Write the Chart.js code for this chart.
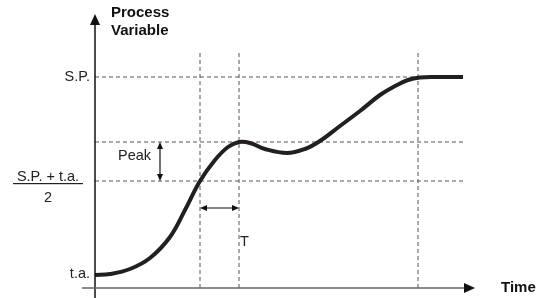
<!DOCTYPE html>
<html>
<head>
<meta charset="utf-8">
<script src="https://cdn.jsdelivr.net/npm/chart.js@4"></script>
<style>
  body { margin: 0; background: #fff; }
  canvas { display: block; }
</style>
</head>
<body>
<canvas id="myChart" width="547" height="298"></canvas>
<script>
// response curve (time, process variable), arbitrary units
const timeValues = [0, 15, 35, 55, 75, 90, 105, 120, 133, 144, 155, 170, 192, 210, 225, 245, 265, 285, 300, 313, 325, 340, 368];
const pvValues = [13, 14, 19, 30, 51, 78, 107, 128, 141, 146, 145, 139, 135, 139, 147, 162, 177, 193, 202, 208, 210.5, 211, 211];

// reference levels
const levelNames = ["S.P.", "Peak", "Mid"];
const levelValues = [211, 146, 107];
const taValue = 13;

// vertical marker times
const markerTimes = [105, 144, 323];
const markerTop = 235;
const lineEnd = 368;
const tArrowLevel = 80;

const FONT = '"Liberation Sans", Arial, Helvetica, sans-serif';
const dashColor = "#555";

const datasets = [{
    data: timeValues.map((t, i) => ({ x: t, y: pvValues[i] })),
    borderColor: "#231f20",
    borderWidth: 4,
    pointRadius: 0,
    tension: 0.4,
    fill: false,
    order: 0
}];

levelValues.forEach(v => {
    datasets.push({
        data: [{ x: 0, y: v }, { x: lineEnd, y: v }],
        borderColor: dashColor,
        borderWidth: 1,
        borderDash: [4, 3],
        pointRadius: 0,
        order: 1
    });
});

markerTimes.forEach(t => {
    datasets.push({
        data: [{ x: t, y: 0 }, { x: t, y: markerTop }],
        borderColor: dashColor,
        borderWidth: 1,
        borderDash: [4, 3],
        pointRadius: 0,
        order: 1
    });
});

function arrowHead(ctx, x, y, dir, len, half) {
    // dir: 'up','down','left','right' - tip at (x,y)
    ctx.beginPath();
    ctx.moveTo(x, y);
    if (dir === "up") { ctx.lineTo(x - half, y + len); ctx.lineTo(x + half, y + len); }
    if (dir === "down") { ctx.lineTo(x - half, y - len); ctx.lineTo(x + half, y - len); }
    if (dir === "left") { ctx.lineTo(x + len, y - half); ctx.lineTo(x + len, y + half); }
    if (dir === "right") { ctx.lineTo(x - len, y - half); ctx.lineTo(x - len, y + half); }
    ctx.closePath();
    ctx.fill();
}

const annotate = {
    id: "annotate",
    afterDraw(chart) {
        const ctx = chart.ctx;
        const xs = chart.scales.x, ys = chart.scales.y;
        const x0 = xs.getPixelForValue(0);
        const y0 = ys.getPixelForValue(0);
        const top = chart.chartArea.top;
        const right = chart.chartArea.right;
        ctx.save();

        // y axis
        ctx.strokeStyle = "#111";
        ctx.fillStyle = "#111";
        ctx.lineWidth = 1.5;
        ctx.beginPath();
        ctx.moveTo(x0, top + 6);
        ctx.lineTo(x0, chart.height);
        ctx.stroke();
        arrowHead(ctx, x0, top, "up", 11, 5);

        // x axis
        ctx.strokeStyle = "#666";
        ctx.beginPath();
        ctx.moveTo(x0 - 13, y0);
        ctx.lineTo(right - 6, y0);
        ctx.stroke();
        ctx.fillStyle = "#111";
        arrowHead(ctx, right, y0, "right", 11, 5);

        // peak double arrow
        const pk = ys.getPixelForValue(levelValues[1]);
        const md = ys.getPixelForValue(levelValues[2]);
        const ax = 160;
        ctx.strokeStyle = "#111";
        ctx.lineWidth = 1.2;
        ctx.beginPath();
        ctx.moveTo(ax, pk + 3);
        ctx.lineTo(ax, md - 3);
        ctx.stroke();
        arrowHead(ctx, ax, pk, "up", 7, 3);
        arrowHead(ctx, ax, md, "down", 7, 3);

        // T double arrow
        const tx1 = xs.getPixelForValue(markerTimes[0]);
        const tx2 = xs.getPixelForValue(markerTimes[1]);
        const ty = ys.getPixelForValue(tArrowLevel);
        ctx.beginPath();
        ctx.moveTo(tx1 + 3, ty);
        ctx.lineTo(tx2 - 3, ty);
        ctx.stroke();
        arrowHead(ctx, tx1, ty, "left", 7, 3);
        arrowHead(ctx, tx2, ty, "right", 7, 3);

        // text
        ctx.fillStyle = "#222";
        ctx.font = "14.5px " + FONT;
        ctx.textBaseline = "middle";
        ctx.textAlign = "right";
        ctx.fillText(levelNames[0], x0 - 5, ys.getPixelForValue(levelValues[0]));
        ctx.fillText("t.a.", x0 - 5, ys.getPixelForValue(taValue) - 1);

        ctx.textAlign = "center";
        const my = ys.getPixelForValue(levelValues[2]);
        ctx.textBaseline = "alphabetic";
        ctx.fillText("S.P. + t.a.", 48, my);
        ctx.fillRect(13, my + 2, 70, 1.2);
        ctx.textBaseline = "middle";
        ctx.fillText("2", 48, my + 17);

        ctx.textAlign = "left";
        ctx.fillText("Peak", 118, (pk + md) / 2 - 6);
        ctx.fillText("T", tx2 + 1, ty + 34);

        ctx.font = "bold 15px " + FONT;
        ctx.fillStyle = "#111";
        ctx.fillText("Process", 111, 13);
        ctx.fillText("Variable", 111, 31);
        ctx.fillText("Time", 501, y0);
        ctx.restore();
    }
};

new Chart("myChart", {
    type: "line",
    data: { datasets: datasets },
    options: {
        responsive: false,
        animation: false,
        layout: { padding: { left: 95, right: 72, top: 14, bottom: 10 } },
        plugins: {
            legend: { display: false },
            tooltip: { enabled: false }
        },
        scales: {
            x: { type: "linear", min: 0, max: 380, display: false },
            y: { type: "linear", min: 0, max: 274, display: false }
        }
    },
    plugins: [annotate]
});
</script>
</body>
</html>
